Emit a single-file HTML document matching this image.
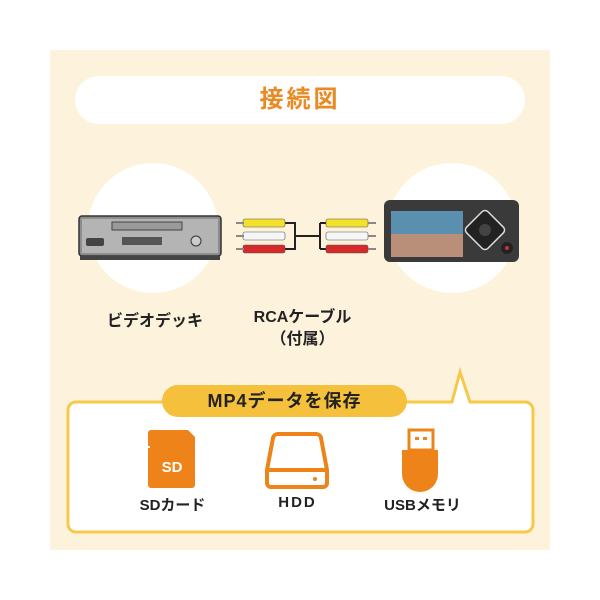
<!DOCTYPE html>
<html><head><meta charset="utf-8"><style>
body{margin:0;width:600px;height:600px;background:#fff;position:relative;overflow:hidden;font-family:"Liberation Sans","Noto Sans CJK JP",sans-serif;}
.a{position:absolute}
.t{font-weight:bold;color:#222;text-align:center}
</style></head><body>
<div class="a" style="left:50px;top:50px;width:500px;height:500px;background:#fdf3dd"></div>
<div class="a" style="left:75px;top:76px;width:450px;height:48px;border-radius:24px;background:#fff"></div>
<div class="a t" style="left:75px;top:84px;width:450px;font-size:24px;color:#ea8a22;letter-spacing:3px;line-height:32px">接続図</div>
<div class="a" style="left:88px;top:163px;width:130px;height:130px;border-radius:50%;background:#fff"></div>
<div class="a" style="left:387px;top:163px;width:130px;height:130px;border-radius:50%;background:#fff"></div>
<svg class="a" style="left:0;top:0" width="600" height="600">
<!-- VCR -->
<rect x="79" y="216" width="142" height="40" rx="3" fill="#8d8d8d" stroke="#333" stroke-width="1.5"/>
<rect x="82" y="219" width="136" height="34" fill="#b4b4b4"/>
<rect x="112" y="222" width="70" height="8" fill="#9a9a9a" stroke="#444" stroke-width="1"/>
<rect x="122" y="237" width="40" height="8" fill="#555"/>
<rect x="86" y="238" width="18" height="8" rx="2" fill="#444"/>
<circle cx="196" cy="241" r="5" fill="#ccc" stroke="#333"/>
<rect x="80" y="256" width="140" height="4" fill="#444"/>
<!-- cables -->
<g stroke="#222" stroke-width="2" fill="none">
<path d="M285 223 H295 V249 H285 M295 236 H320 M320 223 V249 M320 223 H330 M320 249 H330"/>
</g>
<g>
<rect x="243" y="219" width="42" height="8" rx="2" fill="#f4e22a" stroke="#555" stroke-width=".6"/>
<rect x="243" y="232" width="42" height="8" rx="2" fill="#f6f6f6" stroke="#555" stroke-width=".6"/>
<rect x="243" y="245" width="42" height="8" rx="2" fill="#d7282a" stroke="#555" stroke-width=".6"/>
<rect x="236" y="222" width="8" height="2" fill="#888"/><rect x="236" y="235" width="8" height="2" fill="#888"/><rect x="236" y="248" width="8" height="2" fill="#888"/>
<rect x="326" y="219" width="42" height="8" rx="2" fill="#f4e22a" stroke="#555" stroke-width=".6"/>
<rect x="326" y="232" width="42" height="8" rx="2" fill="#f6f6f6" stroke="#555" stroke-width=".6"/>
<rect x="326" y="245" width="42" height="8" rx="2" fill="#d7282a" stroke="#555" stroke-width=".6"/>
<rect x="368" y="222" width="8" height="2" fill="#888"/><rect x="368" y="235" width="8" height="2" fill="#888"/><rect x="368" y="248" width="8" height="2" fill="#888"/>
</g>
<!-- device -->
<rect x="384" y="200" width="135" height="62" rx="6" fill="#3a3a3a"/>
<rect x="391" y="211" width="72" height="46" fill="#5a8fb0"/>
<rect x="391" y="234" width="72" height="23" fill="#b98f7a"/>
<rect x="470" y="215" width="30" height="30" transform="rotate(45 485 230)" rx="4" fill="#222" stroke="#ddd" stroke-width="1.5"/>
<circle cx="485" cy="230" r="6" fill="#444"/>
<circle cx="507" cy="248" r="6" fill="#222"/><circle cx="507" cy="248" r="2" fill="#c33"/>
<!-- bubble -->
<path d="M78 402 H452 L460 372 L470 402 H525 a8 8 0 0 1 8 8 V524 a8 8 0 0 1 -8 8 H76 a8 8 0 0 1 -8 -8 V410 a8 8 0 0 1 8 -8 Z" fill="#fff" stroke="#f6c94a" stroke-width="3"/>
<rect x="162" y="385" width="245" height="32" rx="16" fill="#f5c13c"/>
<!-- SD -->
<path d="M153 430 H188 L195 437 V485 a3 3 0 0 1 -3 3 H151 a3 3 0 0 1 -3 -3 V448 H150 V446 H148 V433 a3 3 0 0 1 3 -3Z" fill="#ee8419"/>
<text x="172" y="472" font-family="Liberation Sans" font-weight="bold" font-size="15" fill="#fff" text-anchor="middle">SD</text>
<!-- HDD -->
<path d="M278 434 H316 a5 5 0 0 1 5 4 L327 470 V483 a4 4 0 0 1 -4 4 H271 a4 4 0 0 1 -4 -4 V470 L273 438 a5 5 0 0 1 5 -4Z" fill="none" stroke="#ee8419" stroke-width="4"/>
<line x1="268" y1="470" x2="326" y2="470" stroke="#ee8419" stroke-width="4"/>
<circle cx="315" cy="479" r="2" fill="#ee8419"/>
<!-- USB -->
<rect x="409" y="430" width="24" height="20" fill="none" stroke="#ee8419" stroke-width="3"/>
<rect x="415" y="437" width="4" height="3" fill="#ee8419"/><rect x="423" y="437" width="4" height="3" fill="#ee8419"/>
<path d="M402 450 H438 V474 a18 18 0 0 1 -36 0Z" fill="#ee8419"/>
</svg>
<div class="a t" style="left:80px;top:307px;width:150px;font-size:16px">ビデオデッキ</div>
<div class="a t" style="left:230px;top:307px;width:145px;font-size:16px;line-height:22px">RCAケーブル<br>（付属）</div>
<div class="a t" style="left:162px;top:388px;width:245px;font-size:18px;line-height:26px;letter-spacing:1px">MP4データを保存</div>
<div class="a t" style="left:120px;top:494px;width:105px;font-size:15px">SDカード</div>
<div class="a t" style="left:245px;top:494px;width:105px;font-size:15px;letter-spacing:2px">HDD</div>
<div class="a t" style="left:365px;top:494px;width:115px;font-size:15px">USBメモリ</div>
</body></html>
